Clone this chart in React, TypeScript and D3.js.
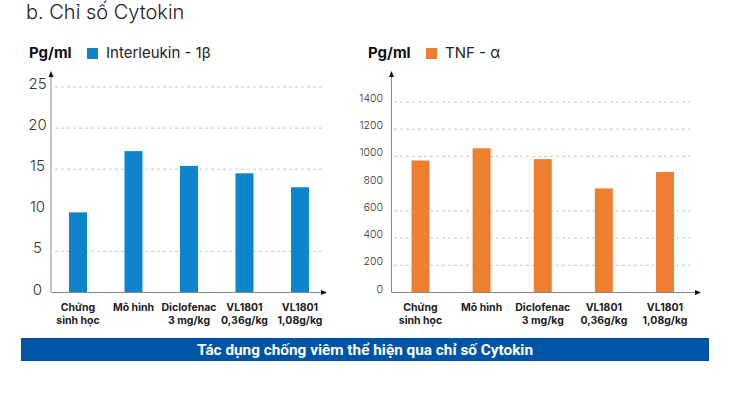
import { scaleLinear, scalePoint } from "d3";

// categories shared by both panels (two lines each)
const categories = ["Chứng sinh học", "Mô hình", "Diclofenac", "VL1801 0,36", "VL1801 1,08"];
const categoryLines = [
  ["Chứng", "sinh học"],
  ["Mô hình"],
  ["Diclofenac", "3 mg/kg"],
  ["VL1801", "0,36g/kg"],
  ["VL1801", "1,08g/kg"],
];

// Interleukin - 1β (pg/ml)
const il1Values = [9.75, 17.2, 15.4, 14.5, 12.8];
const il1Ticks = [0, 5, 10, 15, 20, 25];
const il1Grid = [5, 15, 20, 25];

// TNF - α (pg/ml)
const tnfValues = [970, 1060, 980, 765, 885];
const tnfTicks = [0, 200, 400, 600, 800, 1000, 1200, 1400];
const tnfGrid = [200, 400, 600, 1000, 1200, 1400];

const FONT = "Inter, 'Noto Sans', sans-serif";

type PanelProps = {
  values: number[];
  ticks: number[];
  grid: number[];
  yMax: number;
  yTop: number;
  color: string;
  legend: string;
  axisX: number;
  axisEnd: number;
  gridStart: number;
  gridEnd: number;
  firstBar: number;
  lastBar: number;
  legendX: number;
  tickX: number;
  tickAnchor: "middle" | "end";
  tickSize: number;
  tickDy: number;
};

function Panel(p: PanelProps) {
  const y0 = 292.5;
  const y = scaleLinear().domain([0, p.yMax]).range([y0, p.yTop]);
  const x = scalePoint<string>().domain(categories).range([p.firstBar, p.lastBar]);
  const barW = 18;

  return (
    <g>
      {/* legend */}
      <text x={p.legendX} y={58} fontSize={15} fontWeight={700} fill="#111">
        Pg/ml
      </text>
      <rect x={p.legendX + 58} y={48} width={11} height={11} fill={p.color} />
      <text x={p.legendX + 77} y={58} fontSize={15} fill="#222">
        {p.legend}
      </text>

      {/* grid lines */}
      {p.grid.map((v) => (
        <line
          key={v}
          x1={p.gridStart}
          x2={p.gridEnd}
          y1={y(v)}
          y2={y(v)}
          stroke="#c8c8c8"
          strokeDasharray="3,3"
        />
      ))}

      {/* y tick labels */}
      {p.ticks.map((v) => (
        <text
          key={v}
          x={p.tickX}
          y={y(v) + p.tickDy}
          textAnchor={p.tickAnchor}
          fontSize={p.tickSize}
          fontWeight={300}
          fill="#333"
        >
          {v}
        </text>
      ))}

      {/* bars */}
      {p.values.map((v, i) => (
        <rect
          key={i}
          x={(x(categories[i]) ?? 0) - barW / 2}
          y={y(v)}
          width={barW}
          height={y0 - y(v)}
          fill={p.color}
        />
      ))}

      {/* axes with arrow heads */}
      <line x1={p.axisX} x2={p.axisX} y1={75} y2={y0} stroke="#888" />
      <path d={`M${p.axisX - 2.5},${77} L${p.axisX},${71} L${p.axisX + 2.5},${77} Z`} fill="#111" />
      <line x1={p.axisX} x2={p.axisEnd - 3} y1={y0} y2={y0} stroke="#888" />
      <path d={`M${p.axisEnd - 5},${y0 - 2.5} L${p.axisEnd + 1},${y0} L${p.axisEnd - 5},${y0 + 2.5} Z`} fill="#111" />

      {/* category labels */}
      {categoryLines.map((lines, i) => (
        <text
          key={i}
          x={x(categories[i])}
          textAnchor="middle"
          fontSize={10.5}
          fontWeight={700}
          fill="#222"
        >
          {lines.map((l, j) => (
            <tspan key={j} x={x(categories[i])} y={311 + j * 12.5}>
              {l}
            </tspan>
          ))}
        </text>
      ))}
    </g>
  );
}

export default function App() {
  return (
    <>
      <style>{`body{margin:0}`}</style>
      <svg width={730} height={401} style={{ display: "block", fontFamily: FONT }}>
        <rect width={730} height={401} fill="#fff" />
        <text x={26} y={18.5} fontSize={20} fontWeight={300} fill="#222">
          b. Chỉ số Cytokin
        </text>

        <Panel
          values={il1Values}
          ticks={il1Ticks}
          grid={il1Grid}
          yMax={25}
          yTop={87}
          color="#0e85ca"
          legend="Interleukin - 1β"
          axisX={51}
          axisEnd={326}
          gridStart={55}
          gridEnd={325}
          firstBar={78}
          lastBar={300}
          legendX={29}
          tickX={37.5}
          tickAnchor="middle"
          tickSize={15}
          tickDy={2}
        />
        <Panel
          values={tnfValues}
          ticks={tnfTicks}
          grid={tnfGrid}
          yMax={1400}
          yTop={102}
          color="#ef7f30"
          legend="TNF - α"
          axisX={391.5}
          axisEnd={700}
          gridStart={394}
          gridEnd={690}
          firstBar={420.5}
          lastBar={665}
          legendX={368}
          tickX={383}
          tickAnchor="end"
          tickSize={10.5}
          tickDy={0}
        />

        {/* caption band */}
        <rect x={21} y={338} width={688} height={23} fill="#0054a6" />
        <text
          x={365}
          y={355}
          textAnchor="middle"
          fontSize={15}
          fontWeight={700}
          fill="#fff"
          fontFamily="'Roboto', sans-serif"
          textLength={336}
          lengthAdjust="spacingAndGlyphs"
        >
          Tác dụng chống viêm thể hiện qua chỉ số Cytokin
        </text>
      </svg>
    </>
  );
}
